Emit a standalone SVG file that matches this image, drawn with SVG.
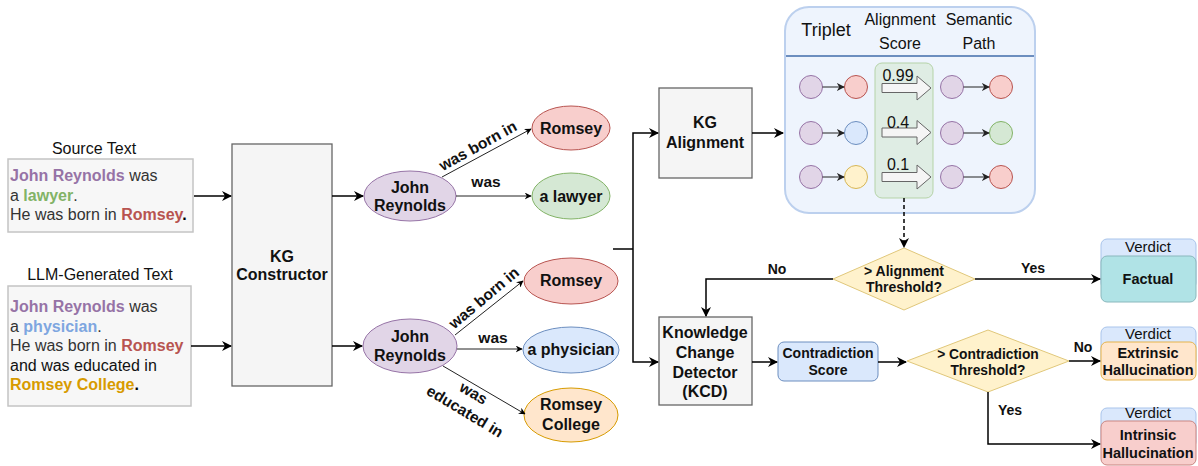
<svg xmlns="http://www.w3.org/2000/svg" width="1198" height="466" viewBox="0 0 1198 466">
<defs>
<marker id="ah" viewBox="0 0 10 10" refX="9" refY="5" markerWidth="7" markerHeight="7" markerUnits="userSpaceOnUse" orient="auto"><path d="M0,0 L10,5 L0,10 L3,5 z" fill="#000"/></marker>
<marker id="ahb" viewBox="0 0 10 10" refX="9" refY="5" markerWidth="10" markerHeight="10" markerUnits="userSpaceOnUse" orient="auto"><path d="M0,0 L10,5 L0,10 L3,5 z" fill="#000"/></marker>
<marker id="ahs" viewBox="0 0 10 10" refX="9" refY="5" markerWidth="8" markerHeight="8" markerUnits="userSpaceOnUse" orient="auto"><path d="M0,0 L10,5 L0,10 L3,5 z" fill="#222"/></marker>
<style>
text{font-family:"Liberation Sans",Arial,sans-serif;fill:#111}
.b{font-weight:bold}
.c{text-anchor:middle}
.body{font-size:16px;fill:#333}
.nl{font-size:16px}
.conn{fill:none;stroke:#000;stroke-width:1.5}
.thin{fill:none;stroke:#222;stroke-width:1}
.box{fill:#f5f5f5;stroke:#666;stroke-width:1.3}
.pur{fill:#e1d5e7;stroke:#9673a6}
.red{fill:#f8cecc;stroke:#b85450}
.grn{fill:#d5e8d4;stroke:#82b366}
.blu{fill:#dae8fc;stroke:#6c8ebf}
.yel{fill:#fff2cc;stroke:#d6b656}
.org{fill:#ffe6cc;stroke:#d79b00}
.teal{fill:#b0e3e6;stroke:#8ab8bd}
.vh{fill:#dae8fc;stroke:#a9c4eb}
.dia{fill:#fff2cc;stroke:#e0c77a}
.blk{fill:#f5f5f5;stroke:#666;stroke-width:1}
.pc{stroke-width:1}
</style>
</defs>
<rect width="1198" height="466" fill="#fff"/>

<g id="source-text">
<text x="94" y="154" class="c" font-size="16">Source Text</text>
<rect x="8" y="159" width="185" height="73" fill="#f7f7f7" stroke="#c4c4c4" stroke-width="1.5"/>
<text class="body" x="10" y="181"><tspan class="b" fill="#9673a6">John Reynolds</tspan> was</text>
<text class="body" x="10" y="201">a <tspan class="b" fill="#82b366">lawyer</tspan>.</text>
<text class="body" x="10" y="220">He was born in <tspan class="b" fill="#b85450">Romsey</tspan><tspan class="b" fill="#000">.</tspan></text>
</g>

<g id="llm-text">
<text x="100" y="280" class="c" font-size="16">LLM-Generated Text</text>
<rect x="8" y="286" width="183" height="120" fill="#f7f7f7" stroke="#c4c4c4" stroke-width="1.5"/>
<text class="body" x="10" y="312"><tspan class="b" fill="#9673a6">John Reynolds</tspan> was</text>
<text class="body" x="10" y="332">a <tspan class="b" fill="#7ea6e0">physician</tspan>.</text>
<text class="body" x="10" y="351">He was born in <tspan class="b" fill="#b85450">Romsey</tspan></text>
<text class="body" x="10" y="371" style="fill:#111">and was educated in</text>
<text class="body" x="10" y="390"><tspan class="b" fill="#d79b00">Romsey College</tspan><tspan class="b" fill="#000">.</tspan></text>
</g>

<g id="kg-constructor">
<rect class="box" x="232" y="144" width="100" height="242"/>
<text class="b c" font-size="16" x="282" y="262">KG</text>
<text class="b c" font-size="16" x="282" y="280">Constructor</text>
</g>

<g id="src-john"><ellipse class="pur" cx="410" cy="196" rx="46" ry="25"/><text class="b c nl" x="410" y="193">John</text><text class="b c nl" x="410" y="211">Reynolds</text></g>
<g id="src-romsey"><ellipse class="red" cx="571" cy="128" rx="39" ry="22"/><text class="b c nl" x="571" y="134">Romsey</text></g>
<g id="src-lawyer"><ellipse class="grn" cx="571" cy="196" rx="39" ry="23"/><text class="b c nl" x="571" y="202">a lawyer</text></g>

<g id="llm-john"><ellipse class="pur" cx="410" cy="346" rx="47" ry="27"/><text class="b c nl" x="410" y="342">John</text><text class="b c nl" x="410" y="361">Reynolds</text></g>
<g id="llm-romsey"><ellipse class="red" cx="571" cy="281" rx="47" ry="23"/><text class="b c nl" x="571" y="286">Romsey</text></g>
<g id="llm-physician"><ellipse class="blu" cx="571" cy="350" rx="48" ry="23"/><text class="b c nl" x="571" y="355">a physician</text></g>
<g id="llm-college"><ellipse class="org" cx="571" cy="415" rx="47" ry="27"/><text class="b c nl" x="571" y="410">Romsey</text><text class="b c nl" x="571" y="430">College</text></g>

<g id="kg-alignment">
<rect class="box" x="659" y="88" width="93" height="90"/>
<text class="b c" font-size="16" x="705" y="128">KG</text>
<text class="b c" font-size="16" x="705" y="148">Alignment</text>
</g>

<g id="kcd">
<rect class="box" x="659" y="317" width="93" height="88"/>
<text class="b c" font-size="16" x="705" y="338">Knowledge</text>
<text class="b c" font-size="16" x="705" y="358">Change</text>
<text class="b c" font-size="16" x="705" y="378">Detector</text>
<text class="b c" font-size="16" x="705" y="397">(KCD)</text>
</g>

<g id="alignment-panel">
<rect x="785" y="7" width="250" height="206" rx="24" fill="#eef4fd" stroke="#bcd0ee" stroke-width="2"/>
<line x1="786" y1="56" x2="1034" y2="56" stroke="#6c8ebf" stroke-width="2"/>
<text class="c" font-size="18" x="826" y="36">Triplet</text>
<text class="c" font-size="16" x="900" y="25">Alignment</text>
<text class="c" font-size="16" x="900" y="49">Score</text>
<text class="c" font-size="16" x="979" y="25">Semantic</text>
<text class="c" font-size="16" x="979" y="49">Path</text>
<rect x="875" y="63" width="58" height="135" rx="7" fill="#d5e8d4" fill-opacity="0.6" stroke="#b5d3a8" stroke-width="1"/>
<g class="pc">
<circle class="pur" cx="811" cy="87" r="11.5"/><circle class="red" cx="856" cy="87" r="11.5"/>
<circle class="pur" cx="811" cy="133" r="11.5"/><circle class="blu" cx="856" cy="133" r="11.5"/>
<circle class="pur" cx="811" cy="177" r="11.5"/><circle class="yel" cx="856" cy="177" r="11.5"/>
<circle class="pur" cx="952" cy="87" r="11.5"/><circle class="red" cx="1001" cy="87" r="11.5"/>
<circle class="pur" cx="952" cy="133" r="11.5"/><circle class="grn" cx="1001" cy="133" r="11.5"/>
<circle class="pur" cx="952" cy="177" r="11.5"/><circle class="red" cx="1001" cy="177" r="11.5"/>
</g>
<g class="thin" marker-end="url(#ahs)">
<line x1="822.5" y1="87" x2="844" y2="87"/><line x1="822.5" y1="133" x2="844" y2="133"/><line x1="822.5" y1="177" x2="844" y2="177"/>
<line x1="963.5" y1="87" x2="989" y2="87"/><line x1="963.5" y1="133" x2="989" y2="133"/><line x1="963.5" y1="177" x2="989" y2="177"/>
</g>
<path class="blk" d="M882,83.5 H917 V76 L931,88 L917,100 V92.5 H882 Z"/>
<path class="blk" d="M882,128 H917 V120.5 L931,132.5 L917,144.5 V137 H882 Z"/>
<path class="blk" d="M882,172.5 H917 V165 L931,177 L917,189 V181.5 H882 Z"/>
<text class="c" font-size="16" x="898" y="81">0.99</text>
<text class="c" font-size="16" x="898" y="128">0.4</text>
<text class="c" font-size="16" x="898" y="170">0.1</text>
</g>

<g id="alignment-threshold">
<polygon class="dia" points="904,248 975,279 904,310 833,279"/>
<text class="b c" font-size="14" x="904" y="276">&gt; Alignment</text>
<text class="b c" font-size="14" x="904" y="292">Threshold?</text>
</g>

<g id="contradiction-score">
<rect class="blu" x="778" y="342" width="100" height="39" rx="6"/>
<text class="b c" font-size="14" x="828" y="358">Contradiction</text>
<text class="b c" font-size="14" x="828" y="375">Score</text>
</g>

<g id="contradiction-threshold">
<polygon class="dia" points="988,330 1069,361 988,392 907,361"/>
<text class="b c" font-size="13.8" x="988" y="359">&gt; Contradiction</text>
<text class="b c" font-size="13.8" x="988" y="375">Threshold?</text>
</g>

<g id="verdict-factual">
<rect class="vh" x="1101" y="239" width="95" height="50" rx="6"/>
<text class="c" font-size="15" x="1148" y="252">Verdict</text>
<rect class="teal" x="1101" y="256" width="95" height="46" rx="6"/>
<text class="b c" font-size="14.5" x="1148" y="284">Factual</text>
</g>
<g id="verdict-extrinsic">
<rect class="vh" x="1101" y="327" width="95" height="40" rx="6"/>
<text class="c" font-size="15" x="1148" y="339">Verdict</text>
<rect class="org" x="1101" y="342" width="95" height="38" rx="6" style="stroke:#e6b34a"/>
<text class="b c" font-size="14.5" x="1148" y="358">Extrinsic</text>
<text class="b c" font-size="14.5" x="1148" y="375">Hallucination</text>
</g>
<g id="verdict-intrinsic">
<rect class="vh" x="1101" y="408" width="95" height="40" rx="6"/>
<text class="c" font-size="15" x="1148" y="418">Verdict</text>
<rect class="red" x="1101" y="421" width="95" height="44" rx="6" style="stroke:#c98581"/>
<text class="b c" font-size="14.5" x="1148" y="440">Intrinsic</text>
<text class="b c" font-size="14.5" x="1148" y="458">Hallucination</text>
</g>

<g id="connectors">
<line class="conn" x1="194" y1="196" x2="231" y2="196" marker-end="url(#ahb)"/>
<line class="conn" x1="191" y1="346" x2="231" y2="346" marker-end="url(#ahb)"/>
<line class="conn" x1="332" y1="196" x2="363" y2="196" marker-end="url(#ahb)"/>
<line class="conn" x1="332" y1="346" x2="362" y2="346" marker-end="url(#ahb)"/>
<line class="thin" x1="442" y1="177" x2="531" y2="129" marker-end="url(#ah)"/>
<line class="thin" x1="456" y1="196" x2="531" y2="196" marker-end="url(#ah)"/>
<line class="thin" x1="455" y1="335" x2="523" y2="281" marker-end="url(#ah)"/>
<line class="thin" x1="457" y1="349" x2="522" y2="349" marker-end="url(#ah)"/>
<line class="thin" x1="443" y1="366" x2="525" y2="414" marker-end="url(#ah)"/>
<text class="b c" font-size="15.5" transform="translate(478,146) rotate(-29)" y="5">was born in</text>
<text class="b c" font-size="15.5" x="486" y="187">was</text>
<text class="b c" font-size="15.5" transform="translate(484,298) rotate(-40)" y="5">was born in</text>
<text class="b c" font-size="15.5" x="493" y="343">was</text>
<g transform="translate(470,403) rotate(31)">
<text class="b c" font-size="15.5" x="-2" y="-5">was</text>
<text class="b c" font-size="15.5" x="0" y="15">educated in</text>
</g>
<polyline class="conn" points="613,249 633,249"/>
<polyline class="conn" points="633,249 633,133 658,133" marker-end="url(#ahb)"/>
<polyline class="conn" points="633,249 633,362 658,362" marker-end="url(#ahb)"/>
<line class="conn" x1="752" y1="133" x2="783" y2="133" marker-end="url(#ahb)"/>
<line class="conn" x1="904" y1="198" x2="904" y2="247" stroke-dasharray="4,3" marker-end="url(#ahb)"/>
<polyline class="conn" points="833,279 706,279 706,316" marker-end="url(#ahb)"/>
<line class="conn" x1="975" y1="279" x2="1100" y2="279" marker-end="url(#ahb)"/>
<line class="conn" x1="752" y1="362" x2="777" y2="362" marker-end="url(#ahb)"/>
<line class="conn" x1="878" y1="362" x2="906" y2="362" marker-end="url(#ahb)"/>
<line class="conn" x1="1069" y1="361" x2="1100" y2="361" marker-end="url(#ahb)"/>
<polyline class="conn" points="988,392 988,444 1100,444" marker-end="url(#ahb)"/>
<text class="b c" font-size="14" x="777" y="274">No</text>
<text class="b c" font-size="14" x="1033" y="273">Yes</text>
<text class="b c" font-size="14" x="1083" y="352">No</text>
<text class="b c" font-size="14" x="1010" y="415">Yes</text>
</g>
</svg>
